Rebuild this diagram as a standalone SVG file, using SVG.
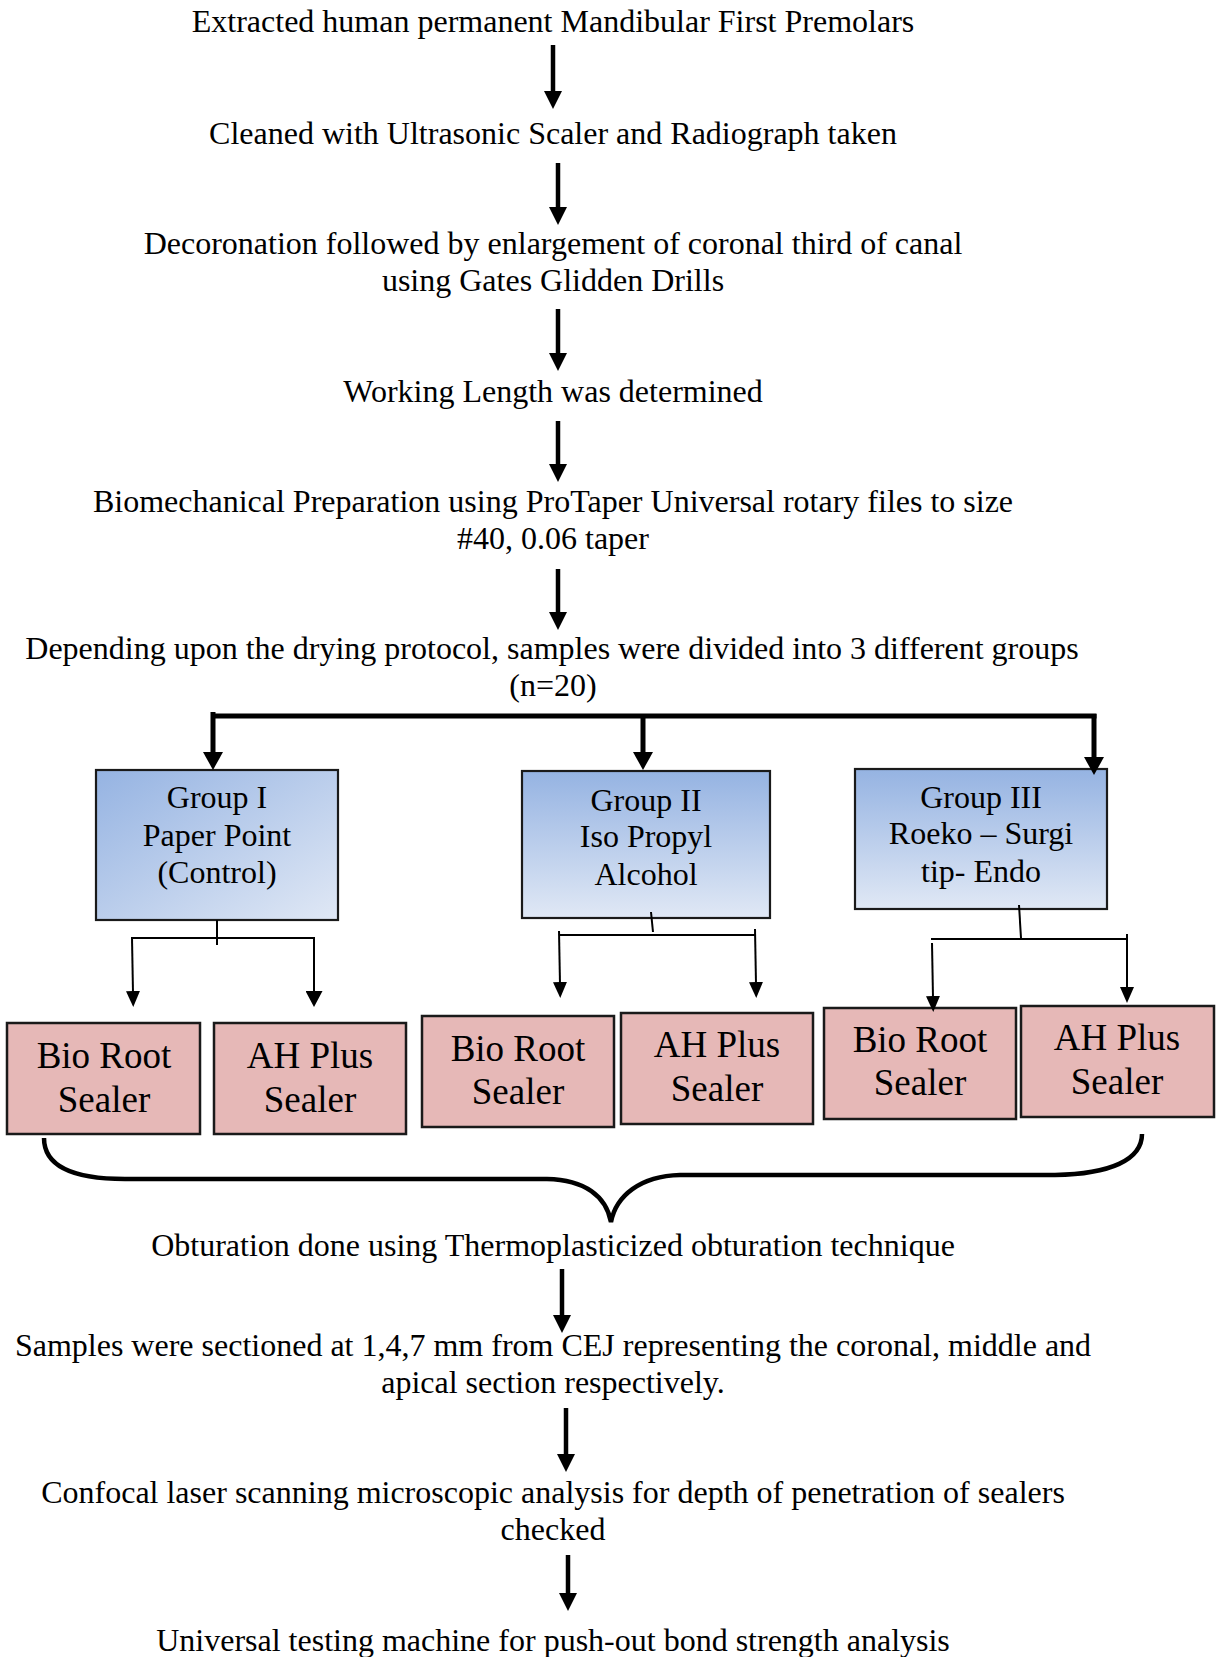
<svg xmlns="http://www.w3.org/2000/svg" width="1220" height="1657" viewBox="0 0 1220 1657">
<style>
text{font-family:"Liberation Serif","Times New Roman",serif;fill:#000;text-anchor:middle}
.t{font-size:32px}
.g{font-size:32px}
.s{font-size:37px}
.grp{stroke:#1a1a1a;stroke-width:2.2}
.seal{fill:#e6b8b7;stroke:#1a1a1a;stroke-width:2.5}
.main{stroke:#000;stroke-width:4.5;fill:none}
.bus{stroke:#000;stroke-width:5;fill:none}
.thin{stroke:#000;stroke-width:2;fill:none}
.brace{stroke:#000;stroke-width:4.5;fill:none}
</style>
<defs>
<linearGradient id="gd" x1="0" y1="0" x2="1" y2="1">
<stop offset="0" stop-color="#95b3e2"/><stop offset="1" stop-color="#e0e8f5"/>
</linearGradient>
<linearGradient id="gv" x1="0" y1="0" x2="0" y2="1">
<stop offset="0" stop-color="#95b3e2"/><stop offset="1" stop-color="#e0e8f5"/>
</linearGradient>
<marker id="ah" markerUnits="userSpaceOnUse" viewBox="0 0 18 18" refX="2" refY="9" markerWidth="18" markerHeight="18" orient="auto"><path d="M0,0 L18,9 L0,18 z" fill="#000"/></marker>
<marker id="ahb" markerUnits="userSpaceOnUse" viewBox="0 0 18 20" refX="2" refY="10" markerWidth="18" markerHeight="20" orient="auto"><path d="M0,0 L18,10 L0,20 z" fill="#000"/></marker>
<marker id="ahs" markerUnits="userSpaceOnUse" viewBox="0 0 16 14" refX="2" refY="7" markerWidth="16" markerHeight="14" orient="auto"><path d="M0,0 L16,7 L0,14 z" fill="#000"/></marker>
<marker id="ahs2" markerUnits="userSpaceOnUse" viewBox="0 0 16 17" refX="2" refY="8.5" markerWidth="16" markerHeight="17" orient="auto"><path d="M0,0 L16,8.5 L0,17 z" fill="#000"/></marker>
</defs>

<g id="step1"><text class="t" x="553" y="32">Extracted human permanent Mandibular First Premolars</text></g>
<g id="step2"><text class="t" x="553" y="144">Cleaned with Ultrasonic Scaler and Radiograph taken</text></g>
<g id="step3"><text class="t" x="553" y="254">Decoronation followed by enlargement of coronal third of canal</text><text class="t" x="553" y="291">using Gates Glidden Drills</text></g>
<g id="step4"><text class="t" x="553" y="402">Working Length was determined</text></g>
<g id="step5"><text class="t" x="553" y="512">Biomechanical Preparation using ProTaper Universal rotary files to size</text><text class="t" x="553" y="549">#40, 0.06 taper</text></g>
<g id="step6"><text class="t" x="552" y="659">Depending upon the drying protocol, samples were divided into 3 different groups</text><text class="t" x="553" y="696">(n=20)</text></g>

<g id="group1"><rect class="grp" x="96" y="770" width="242" height="150" fill="url(#gd)"/>
<text class="g" x="217" y="808">Group I</text><text class="g" x="217" y="846">Paper Point</text><text class="g" x="217" y="883">(Control)</text></g>
<g id="group2"><rect class="grp" x="522" y="771" width="248" height="147" fill="url(#gv)"/>
<text class="g" x="646" y="811">Group II</text><text class="g" x="646" y="847">Iso Propyl</text><text class="g" x="646" y="885">Alcohol</text></g>
<g id="group3"><rect class="grp" x="855" y="769" width="252" height="140" fill="url(#gv)"/>
<text class="g" x="981" y="808">Group III</text><text class="g" x="981" y="844">Roeko – Surgi</text><text class="g" x="981" y="882">tip- Endo</text></g>

<g id="sealer1a"><rect class="seal" x="7" y="1023" width="193" height="111"/><text class="s" x="104" y="1068">Bio Root</text><text class="s" x="104" y="1112">Sealer</text></g>
<g id="sealer1b"><rect class="seal" x="214" y="1023" width="192" height="111"/><text class="s" x="310" y="1068">AH Plus</text><text class="s" x="310" y="1112">Sealer</text></g>
<g id="sealer2a"><rect class="seal" x="422" y="1016" width="192" height="111"/><text class="s" x="518" y="1061">Bio Root</text><text class="s" x="518" y="1104">Sealer</text></g>
<g id="sealer2b"><rect class="seal" x="621" y="1013" width="192" height="111"/><text class="s" x="717" y="1057">AH Plus</text><text class="s" x="717" y="1101">Sealer</text></g>
<g id="sealer3a"><rect class="seal" x="824" y="1008" width="192" height="111"/><text class="s" x="920" y="1052">Bio Root</text><text class="s" x="920" y="1095">Sealer</text></g>
<g id="sealer3b"><rect class="seal" x="1021" y="1006" width="193" height="111"/><text class="s" x="1117" y="1050">AH Plus</text><text class="s" x="1117" y="1094">Sealer</text></g>

<g id="step7"><text class="t" x="553" y="1256">Obturation done using Thermoplasticized obturation technique</text></g>
<g id="step8"><text class="t" x="553" y="1356">Samples were sectioned at 1,4,7 mm from CEJ representing the coronal, middle and</text><text class="t" x="553" y="1393">apical section respectively.</text></g>
<g id="step9"><text class="t" x="553" y="1503">Confocal laser scanning microscopic analysis for depth of penetration of sealers</text><text class="t" x="553" y="1540">checked</text></g>
<g id="step10"><text class="t" x="553" y="1651">Universal testing machine for push-out bond strength analysis</text></g>

<g id="connectors">
<line class="main" x1="553" y1="45" x2="553" y2="93" marker-end="url(#ah)"/>
<line class="main" x1="558" y1="163" x2="558" y2="209" marker-end="url(#ah)"/>
<line class="main" x1="558" y1="309" x2="558" y2="355" marker-end="url(#ah)"/>
<line class="main" x1="558" y1="421" x2="558" y2="466" marker-end="url(#ah)"/>
<line class="main" x1="558" y1="569" x2="558" y2="614" marker-end="url(#ah)"/>
<line class="main" x1="562" y1="1269" x2="562" y2="1317" marker-end="url(#ah)"/>
<line class="main" x1="566" y1="1408" x2="566" y2="1456" marker-end="url(#ah)"/>
<line class="main" x1="568" y1="1555" x2="568" y2="1595" marker-end="url(#ah)"/>

<path class="bus" d="M211,716 L1096.5,716"/>
<line class="bus" x1="213" y1="712" x2="213" y2="754" marker-end="url(#ahb)"/>
<line class="bus" x1="643" y1="714" x2="643" y2="754" marker-end="url(#ahb)"/>
<line class="bus" x1="1094" y1="714" x2="1094" y2="759" marker-end="url(#ahb)"/>

<line class="thin" x1="217" y1="920" x2="217" y2="945"/>
<line class="thin" x1="131" y1="938" x2="315" y2="938"/>
<line class="thin" x1="132" y1="938" x2="133" y2="993" marker-end="url(#ahs)"/>
<line class="thin" x1="314" y1="938" x2="314" y2="993" marker-end="url(#ahs2)"/>

<line class="thin" x1="651" y1="912" x2="653" y2="932"/>
<line class="thin" x1="559" y1="935" x2="756" y2="935"/>
<line class="thin" x1="559" y1="931" x2="560" y2="984" marker-end="url(#ahs)"/>
<line class="thin" x1="755" y1="929" x2="756" y2="984" marker-end="url(#ahs)"/>

<line class="thin" x1="1019" y1="905" x2="1021" y2="938"/>
<line class="thin" x1="931" y1="939" x2="1128" y2="939"/>
<line class="thin" x1="932" y1="943" x2="933" y2="998" marker-end="url(#ahs)"/>
<line class="thin" x1="1127" y1="934" x2="1127" y2="989" marker-end="url(#ahs)"/>

<path class="brace" d="M44,1138 C44,1166 72,1179 125,1179 L547,1179 C585,1180 606,1196 611,1222 C616,1196 640,1176 680,1175 L1055,1175 C1110,1174 1142,1160 1142,1134"/>
</g>
</svg>
